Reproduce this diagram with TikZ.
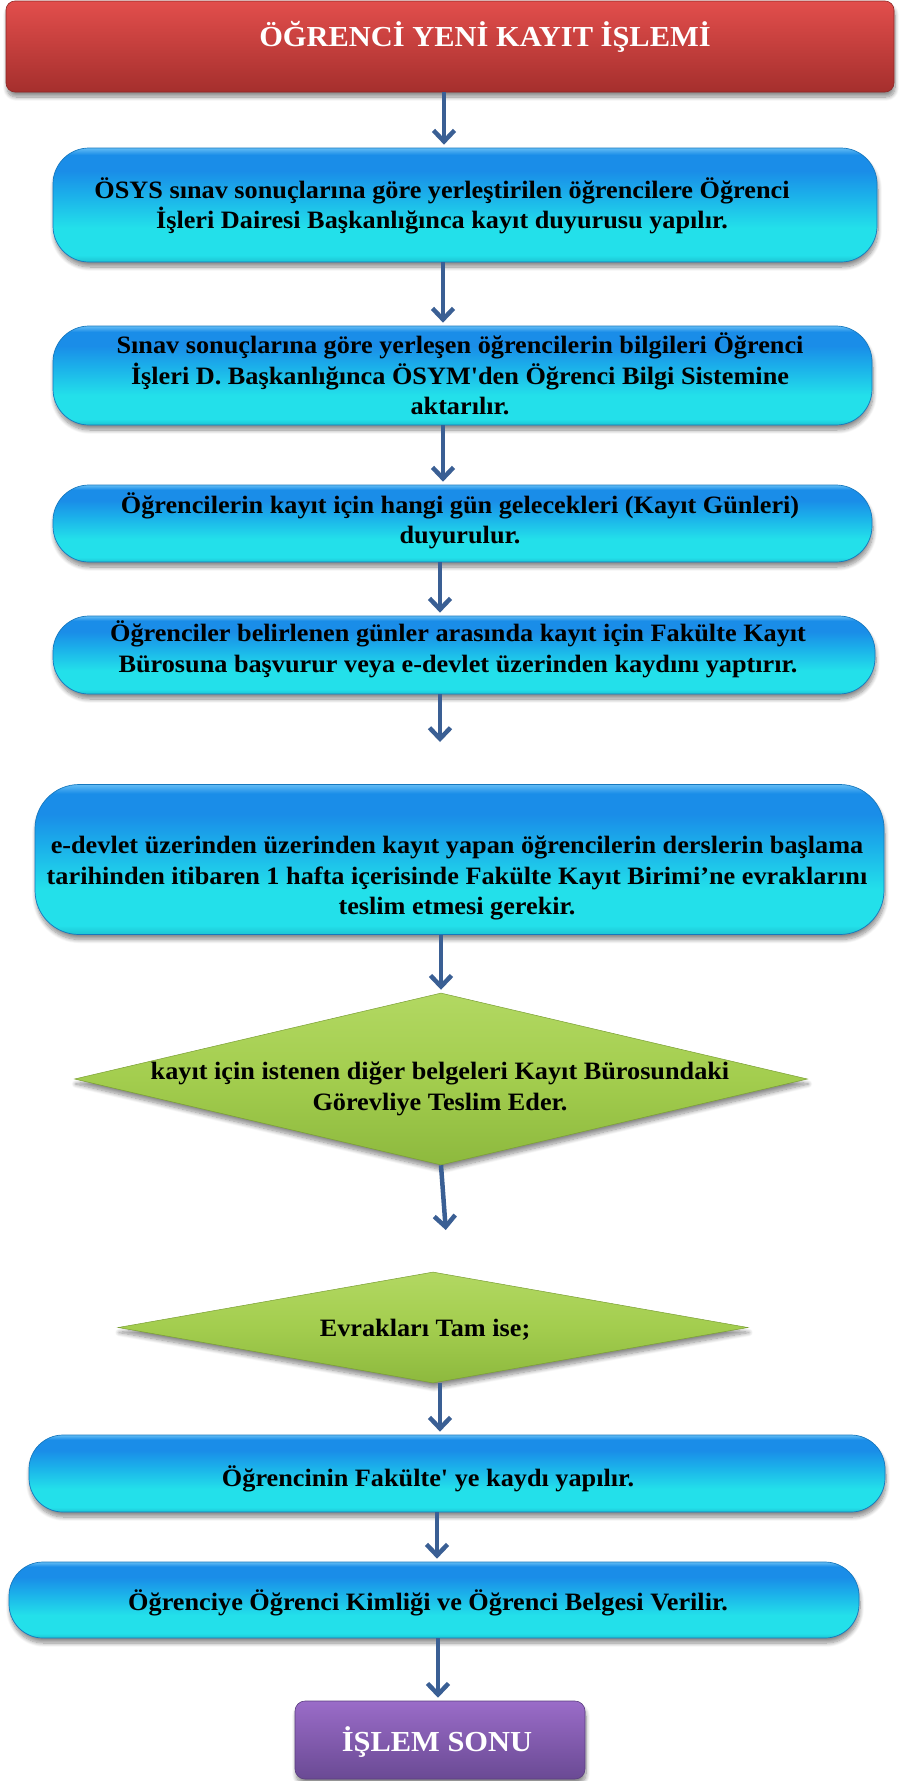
\documentclass[tikz,border=0pt]{standalone}
\usepackage{fontspec}
\setmainfont{Liberation Serif}[FakeStretch=1.05, Ligatures=TeXOff]
\usetikzlibrary{shapes.geometric,arrows.meta,shadows.blur}

% palette
\definecolor{rTop}{HTML}{E24E4C}
\definecolor{rBot}{HTML}{A52F2D}
\definecolor{rOut}{HTML}{8E2826}
\definecolor{bEdge}{HTML}{1CC4D2}
\definecolor{bCyan}{HTML}{23E0EA}
\definecolor{bMid}{HTML}{1BAEEA}
\definecolor{bBlue}{HTML}{1A8DE8}
\definecolor{bHigh}{HTML}{62BCF5}
\definecolor{bOut}{HTML}{1678BE}
\definecolor{gTop}{HTML}{B2D862}
\definecolor{gMid}{HTML}{A3CD4E}
\definecolor{gBot}{HTML}{8DB93E}
\definecolor{gOut}{HTML}{7A9E34}
\definecolor{pTop}{HTML}{9A6CC8}
\definecolor{pBot}{HTML}{6A4A94}
\definecolor{pOut}{HTML}{5A3E80}
\definecolor{arrowc}{HTML}{3A5F94}

% glossy blue fill for the process boxes (path spans 25bp..75bp)
\pgfdeclareverticalshading{bluebar}{100bp}{%
  color(0bp)=(bEdge); color(25bp)=(bEdge); color(28bp)=(bCyan);
  color(40bp)=(bCyan); color(55bp)=(bMid); color(65bp)=(bBlue);
  color(72bp)=(bBlue); color(75bp)=(bHigh); color(100bp)=(bHigh)}

\tikzset{
  softshadow/.style={blur shadow={shadow xshift=1pt, shadow yshift=-5pt,
      shadow blur radius=4pt, shadow blur steps=10, shadow opacity=45}},
  titlebox/.style={rectangle, rounded corners=9pt, inner sep=0pt,
      top color=rTop, bottom color=rBot, draw=rOut, line width=0.6pt, softshadow},
  bluebox/.style={rectangle, rounded corners=36pt, inner sep=0pt,
      shade, shading=bluebar, draw=bOut, line width=0.7pt, softshadow},
  decision/.style={diamond, inner sep=0pt, top color=gTop, bottom color=gBot,
      middle color=gMid, draw=gOut, line width=0.5pt, softshadow},
  endbox/.style={rectangle, rounded corners=10pt, inner sep=0pt,
      top color=pTop, bottom color=pBot, draw=pOut, line width=0.6pt, softshadow},
  bodytext/.style={align=center, inner sep=0pt, text=black,
      font=\bfseries\fontsize{25}{30.5}\selectfont},
  whitetext/.style={align=center, inner sep=0pt, text=white,
      font=\bfseries\fontsize{29}{34}\selectfont},
  flow/.style={draw=arrowc, line width=4.5pt, shorten >=3pt,
      -{Straight Barb[length=11pt,width=21pt]}},
}

\begin{document}
\begin{tikzpicture}[x=1pt,y=-1pt]
\useasboundingbox (0,0) rectangle (899,1781);

% title
\node[titlebox, minimum width=888pt, minimum height=91pt] (title) at (450,46.5) {};
\node[whitetext] (titletxt) at (485,37) {ÖĞRENCİ YENİ KAYIT İŞLEMİ};

% process boxes
\node[bluebox, minimum width=824pt, minimum height=114pt] (b2) at (465,205) {};
\node[bodytext] (t2) at (442,206) {ÖSYS sınav sonuçlarına göre yerleştirilen öğrencilere Öğrenci\\İşleri Dairesi Başkanlığınca kayıt duyurusu yapılır.};

\node[bluebox, minimum width=819pt, minimum height=99pt] (b3) at (462.5,375.5) {};
\node[bodytext] (t3) at (460,374) {Sınav sonuçlarına göre yerleşen öğrencilerin bilgileri Öğrenci\\İşleri D. Başkanlığınca ÖSYM'den Öğrenci Bilgi Sistemine\\aktarılır.};

\node[bluebox, minimum width=819pt, minimum height=77pt] (b4) at (462.5,523.5) {};
\node[bodytext] (t4) at (460,521) {Öğrencilerin kayıt için hangi gün gelecekleri (Kayıt Günleri)\\duyurulur.};

\node[bluebox, minimum width=822pt, minimum height=78pt] (b5) at (464,655) {};
\node[bodytext] (t5) at (458,649.5) {Öğrenciler belirlenen günler arasında kayıt için Fakülte Kayıt\\Bürosuna başvurur veya e-devlet üzerinden kaydını yaptırır.};

\node[bluebox, rounded corners=44pt, minimum width=849pt, minimum height=150pt] (b6) at (459.5,859.5) {};
\node[bodytext] (t6) at (457,878) {e-devlet üzerinden üzerinden kayıt yapan öğrencilerin derslerin başlama\\tarihinden itibaren 1 hafta içerisinde Fakülte Kayıt Birimi’ne evraklarını\\teslim etmesi gerekir.};

% decisions
\node[decision, minimum width=733pt, minimum height=172pt] (d1) at (441,1079) {};
\node[bodytext] (t7) at (440,1089) {kayıt için istenen diğer belgeleri Kayıt Bürosundaki\\Görevliye Teslim Eder.};

\node[decision, minimum width=630pt, minimum height=111pt] (d2) at (433,1327.5) {};
\node[bodytext] (t8) at (425,1329.5) {Evrakları Tam ise;};

% final steps
\node[bluebox, rounded corners=34pt, minimum width=856pt, minimum height=77pt] (b9) at (457,1473.5) {};
\node[bodytext] (t9) at (428,1479) {Öğrencinin Fakülte' ye kaydı yapılır.};

\node[bluebox, rounded corners=34pt, minimum width=850pt, minimum height=76pt] (b10) at (434,1600) {};
\node[bodytext] (t10) at (428,1603) {Öğrenciye Öğrenci Kimliği ve Öğrenci Belgesi Verilir.};

\node[endbox, minimum width=290pt, minimum height=78pt] (done) at (440,1740) {};
\node[whitetext] (donetxt) at (437,1742) {İŞLEM SONU};

% arrow columns and free arrow ends
\coordinate (c1) at (444,0);
\coordinate (c2) at (443,0);
\coordinate (c3) at (440,0);
\coordinate (c4) at (441,0);
\coordinate (c5) at (437,0);
\coordinate (c6) at (438,0);
\coordinate (e5) at (440,745);
\coordinate (e7) at (446,1233);

% connectors
\draw[flow] (title.south -| c1) -- (b2.north -| c1);
\draw[flow] (b2.south -| c2) -- (b3.north -| c2);
\draw[flow] (b3.south -| c2) -- (b4.north -| c2);
\draw[flow] (b4.south -| c3) -- (b5.north -| c3);
\draw[flow] (b5.south -| c3) -- (e5);
\draw[flow] (b6.south -| c4) -- (d1.north -| c4);
\draw[flow] (d1.south) -- (e7);
\draw[flow] (d2.south -| c3) -- (b9.north -| c3);
\draw[flow] (b9.south -| c5) -- (b10.north -| c5);
\draw[flow] (b10.south -| c6) -- (done.north -| c6);
\end{tikzpicture}
\end{document}
